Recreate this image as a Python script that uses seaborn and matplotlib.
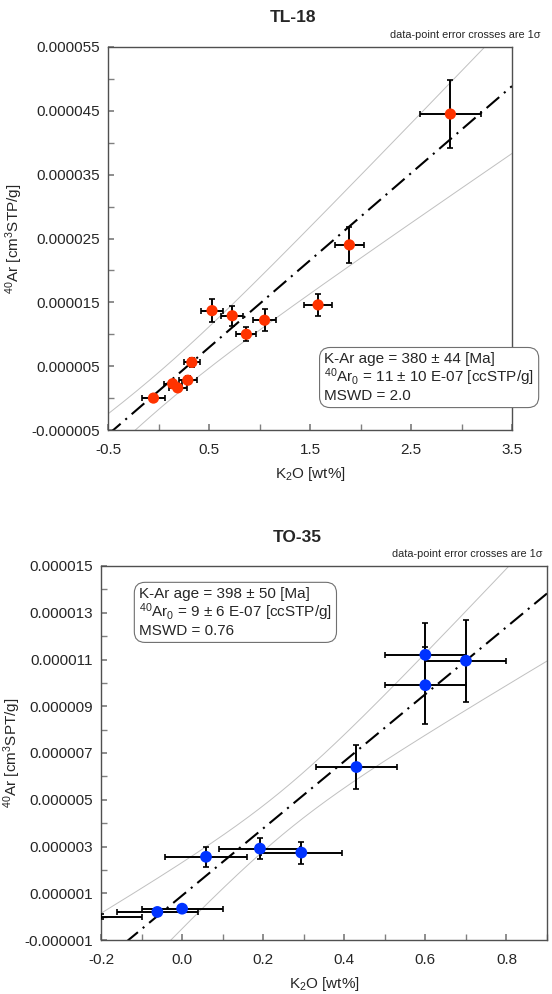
import numpy as np
import pandas as pd
import matplotlib
matplotlib.use("Agg")
import matplotlib.pyplot as plt
import seaborn as sns
from matplotlib.ticker import MultipleLocator, FuncFormatter

# ---- TL-18 data (K2O wt%, 40Ar cm3 STP/g) ----
tl_k2o = [2.89, 1.89, 1.58, 1.05, 0.73, 0.53, 0.87, 0.33, 0.29, 0.14, 0.19, -0.05]
tl_ar = [44.5e-6, 24.0e-6, 14.6e-6, 12.2e-6, 12.9e-6, 13.7e-6, 10.0e-6, 5.6e-6, 2.8e-6, 2.25e-6, 1.6e-6, 0.0e-6]
tl_k2o_err = [0.30, 0.14, 0.14, 0.11, 0.11, 0.11, 0.10, 0.08, 0.09, 0.09, 0.09, 0.11]
tl_ar_err = [5.3e-6, 2.8e-6, 1.7e-6, 1.7e-6, 1.6e-6, 1.75e-6, 1.1e-6, 0.7e-6, 0.6e-6, 0.5e-6, 0.5e-6, 0.5e-6]
tl_slope, tl_icpt = 13.65e-6, 1.1e-6
tl_band = (2.9e-6, 2.9e-6, 0.0)   # half-width at centre, growth, centre
tl_text = "K-Ar age = 380 ± 44 [Ma]\n$^{40}$Ar$_0$ = 11 ± 10 E-07 [ccSTP/g]\nMSWD = 2.0"

# ---- TO-35 data ----
to_k2o = [0.70, 0.60, 0.60, 0.43, 0.294, 0.192, 0.059, 0.0, -0.061, -0.2]
to_ar = [10.95e-6, 11.2e-6, 9.9e-6, 6.4e-6, 2.74e-6, 2.91e-6, 2.56e-6, 0.34e-6, 0.2e-6, 0.0e-6]
to_k2o_err = [0.10, 0.10, 0.10, 0.10, 0.10, 0.10, 0.10, 0.10, 0.10, 0.10]
to_ar_err = [1.76e-6, 1.36e-6, 1.64e-6, 0.95e-6, 0.47e-6, 0.46e-6, 0.43e-6, 0.1e-6, 0.1e-6, 0.12e-6]
to_slope, to_icpt = 14.36e-6, 0.9e-6
to_band = (0.95e-6, 4.2e-6, 0.25)
to_text = "K-Ar age = 398 ± 50 [Ma]\n$^{40}$Ar$_0$ = 9 ± 6 E-07 [ccSTP/g]\nMSWD = 0.76"

sns.set_theme(style="white")
plt.rcParams["font.family"] = ["Liberation Sans", "DejaVu Sans"]
plt.rcParams["mathtext.default"] = "regular"

fig = plt.figure(figsize=(5.52, 9.94), dpi=100)
W, H = 552, 994


def panel(rect, xs, ys, xe, ye, color, msize, slope, icpt, band, xlim, ylim,
          xmaj, ymaj, ylabel, ylab_x, text, tpos):
    l, t, r, b = rect
    ax = fig.add_axes([l / W, 1 - b / H, (r - l) / W, (b - t) / H])
    df = pd.DataFrame({"x": xs, "y": ys})
    df = df[df.x > xlim[0]]   # points left of the axis show only their bars
    ax.errorbar(xs, ys, xerr=xe, yerr=ye, fmt="none", ecolor="black",
                elinewidth=1.4, capsize=2.2, capthick=1.2, zorder=3)
    sns.scatterplot(data=df, x="x", y="y", ax=ax, color=color, s=msize,
                    edgecolor="none", zorder=4, legend=False)
    xx = np.linspace(xlim[0], xlim[1], 300)
    yy = icpt + slope * xx
    w = np.sqrt(band[0] ** 2 + (band[1] * (xx - band[2])) ** 2)
    ax.plot(xx, yy + w, color="#c0c0c0", lw=0.7, zorder=1)
    ax.plot(xx, yy - w, color="#c0c0c0", lw=0.7, zorder=1)
    ax.plot(xx, yy, color="black", lw=1.5, dashes=(8, 3, 1, 3), zorder=2)
    ax.set_xlim(*xlim)
    ax.set_ylim(*ylim)
    ax.xaxis.set_major_locator(MultipleLocator(xmaj))
    ax.xaxis.set_major_formatter(FuncFormatter(lambda v, p: f"{v:.1f}"))
    ax.yaxis.set_major_locator(MultipleLocator(ymaj))
    ax.yaxis.set_major_formatter(FuncFormatter(lambda v, p: f"{v:.6f}"))
    ax.xaxis.set_minor_locator(MultipleLocator(xmaj / 2))
    ax.yaxis.set_minor_locator(MultipleLocator(ymaj / 2))
    ax.tick_params(which="both", direction="in", length=4, color="#808080",
                   labelsize=11, bottom=True, left=True)
    ax.tick_params(axis="x", pad=9)
    ax.tick_params(axis="y", pad=6)
    for s in ax.spines.values():
        s.set_color("#505050")
        s.set_linewidth(1.0)
    ax.set_xlabel("K$_2$O [wt%]", fontsize=11, labelpad=6)
    ax.set_ylabel(ylabel, fontsize=11)
    ax.yaxis.set_label_coords(ylab_x, 0.5)
    ax.text(tpos[0], tpos[1], text, transform=ax.transAxes, ha="left",
            va="center", fontsize=11, linespacing=1.05, zorder=5,
            bbox=dict(boxstyle="round,pad=0.3,rounding_size=0.7",
                      fc="white", ec="#707070", lw=0.8))
    return ax


ax1 = panel((108, 47, 512, 430), tl_k2o, tl_ar, tl_k2o_err, tl_ar_err,
            "#ff3300", 65, tl_slope, tl_icpt, tl_band, (-0.5, 3.5),
            (-0.000005, 0.000055), 1.0, 1e-5,
            "$^{40}$Ar [cm$^3$STP/g]", -0.205, tl_text, (0.535, 0.137))
ax1.xaxis.set_major_locator(MultipleLocator(1.0, offset=0.5))
ax1.yaxis.set_major_locator(MultipleLocator(1e-5, offset=5e-6))

ax2 = panel((101, 566, 547, 940), to_k2o, to_ar, to_k2o_err, to_ar_err,
            "#0033ff", 72, to_slope, to_icpt, to_band, (-0.2, 0.9),
            (-0.000001, 0.000015), 0.2, 2e-6,
            "$^{40}$Ar [cm$^3$SPT/g]", -0.175, to_text, (0.085, 0.876))
ax2.yaxis.set_major_locator(MultipleLocator(2e-6, offset=1e-6))

fig.text(293 / W, 1 - 17 / H, "TL-18", ha="center", va="center",
         fontsize=12.5, fontweight="bold")
fig.text(541 / W, 1 - 35 / H, "data-point error crosses are 1σ",
         ha="right", va="center", fontsize=7.8)
fig.text(297 / W, 1 - 537 / H, "TO-35", ha="center", va="center",
         fontsize=12.5, fontweight="bold")
fig.text(543 / W, 1 - 554 / H, "data-point error crosses are 1σ",
         ha="right", va="center", fontsize=7.8)

fig.savefig("out.png", dpi=100)
